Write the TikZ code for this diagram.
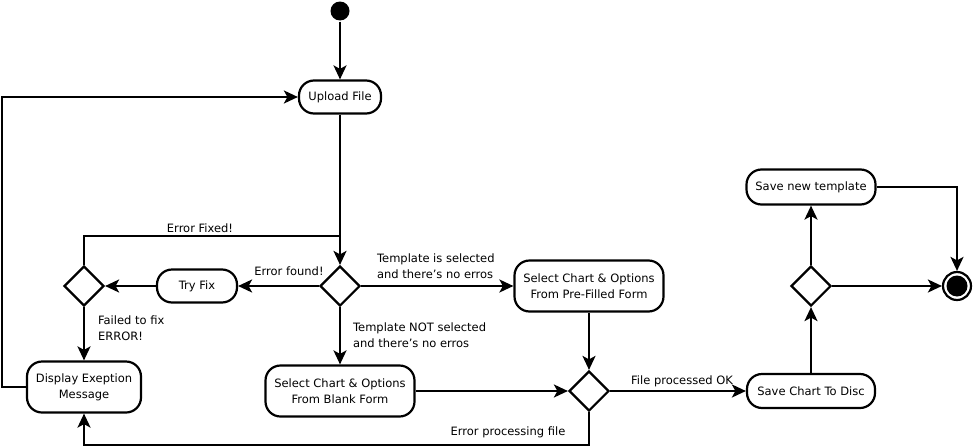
\documentclass[tikz,border=0pt]{standalone}
\usepackage{fontspec}
\setmainfont{DejaVu Sans}
\usetikzlibrary{shapes.geometric,arrows.meta}

\begin{document}
\begin{tikzpicture}[x=1pt,y=-1pt,line width=2.2pt,
  >={Stealth[length=14pt,width=13pt,inset=3.5pt]},
  font=\fontsize{11.5}{16}\selectfont,
  act/.style={draw,rounded corners=15pt,align=center,inner sep=0pt},
  dec/.style={draw,diamond,minimum width=40pt,minimum height=40pt,inner sep=0pt},
  lbl/.style={align=left,inner sep=0pt}]
\useasboundingbox (0,0) rectangle (973,447);

\node[circle,fill,minimum size=19pt,inner sep=0pt] (start) at (340,11) {};
\node[act,minimum width=82pt,minimum height=33pt] (upload) at (340,97) {Upload File};
\node[dec] (d1) at (340,286) {};
\node[act,minimum width=80pt,minimum height=33pt] (tryfix) at (197,286) {Try Fix};
\node[dec] (d2) at (84,286) {};
\node[act,minimum width=114pt,minimum height=51pt] (display) at (84,387) {Display Exeption\\Message};
\node[act,minimum width=149pt,minimum height=51pt] (prefill) at (589,286) {Select Chart \& Options\\From Pre-Filled Form};
\node[act,minimum width=149pt,minimum height=51pt] (blank) at (340,391) {Select Chart \& Options\\From Blank Form};
\node[dec] (d3) at (589,391) {};
\node[act,minimum width=128pt,minimum height=34pt] (savedisc) at (811,391) {Save Chart To Disc};
\node[dec] (d4) at (811,286) {};
\node[act,minimum width=129pt,minimum height=35pt] (savetpl) at (811,187) {Save new template};
\node[circle,draw,minimum size=28pt,inner sep=0pt] (finish) at (957,286) {};
\node[circle,fill,minimum size=21pt,inner sep=0pt] (finishdot) at (finish) {};

\coordinate (fixjoin) at (340,236);
\coordinate (backleft) at (2,97);
\coordinate (errjoin) at (589,445);

% main flow
\draw[->] (start) -- (upload);
\draw[->] (upload) -- (d1);
\draw (d2.north) |- (fixjoin);
\draw[->] (d1) -- (tryfix);
\draw[->] (tryfix) -- (d2);
\draw[->] (d2) -- (display);
\draw[->] (display.west) -| (backleft) -- (upload.west);
\draw[->] (d1) -- (prefill);
\draw[->] (d1) -- (blank);
\draw[->] (blank) -- (d3);
\draw[->] (prefill) -- (d3);
\draw[->] (d3.south) -- (errjoin) -| (display.south);
\draw[->] (d3) -- (savedisc);
\draw[->] (savedisc) -- (d4);
\draw[->] (d4) -- (savetpl);
\draw[->] (savetpl.east) -| (finish);
\draw[->] (d4) -- (finish);

% guards
\node[lbl] (lfixed) at (200,228) {Error Fixed!};
\node[lbl] (lfound) at (289,271) {Error found!};
\node[lbl,anchor=west] (lfailed) at (97,328) {Failed to fix\\ERROR!};
\node[lbl,anchor=west] (lsel) at (376,266) {Template is selected\\and there's no erros};
\node[lbl,anchor=west] (lnotsel) at (352,335) {Template NOT selected\\and there's no erros};
\node[lbl] (lerr) at (508,432) {Error processing file};
\node[lbl] (lok) at (682,381) {File processed OK};
\end{tikzpicture}
\end{document}
